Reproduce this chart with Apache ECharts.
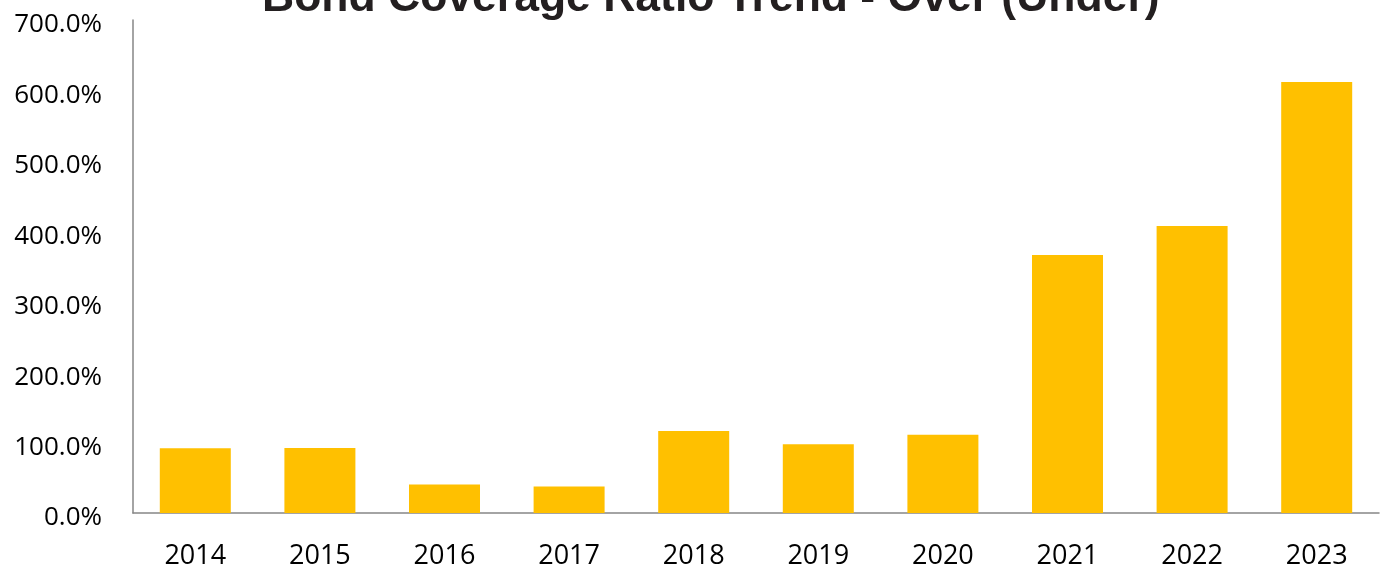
<!DOCTYPE html>
<html>
<head>
<meta charset="utf-8">
<style>
  html, body { margin: 0; padding: 0; background: #ffffff; }
  #chart { width: 1380px; height: 568px; }
</style>
<script src="https://cdn.jsdelivr.net/npm/echarts@6/dist/echarts.min.js"></script>
</head>
<body>
<div id="chart"></div>
<script>
// Bond coverage ratio by fiscal year, in percent
const years = ['2014', '2015', '2016', '2017', '2018', '2019', '2020', '2021', '2022', '2023'];
const coverageRatio = [92.0, 92.2, 40.5, 37.5, 116.5, 97.5, 111.0, 366.5, 407.5, 612.0];
const yTicks = { min: 0, max: 700, step: 100 };
const chartTitle = 'Bond Coverage Ratio Trend - Over (Under)';

const labelFont = '"Open Sans", "Liberation Sans", sans-serif';

const chart = echarts.init(document.getElementById('chart'), null, { renderer: 'canvas' });
chart.setOption({
  backgroundColor: '#ffffff',
  animation: false,
  title: {
    text: chartTitle,
    left: 257,
    top: -29,
    textStyle: {
      fontFamily: '"Liberation Sans", Arial, sans-serif',
      fontWeight: 'bold',
      fontSize: 44.5,
      color: '#231f20'
    }
  },
  grid: { left: 133, right: 1, top: 20, bottom: 55, outerBoundsMode: 'none', containLabel: false },
  xAxis: {
    type: 'category',
    data: years,
    axisLine: { show: true, lineStyle: { color: '#868686', width: 1.5 } },
    axisTick: { show: false },
    axisLabel: {
      margin: 30,
      fontFamily: labelFont,
      fontSize: 27,
      fontWeight: 500,
      color: '#000000'
    }
  },
  yAxis: {
    type: 'value',
    min: yTicks.min,
    max: yTicks.max,
    interval: yTicks.step,
    axisLine: { show: true, lineStyle: { color: '#868686', width: 1.5 } },
    axisTick: { show: false },
    splitLine: { show: false },
    axisLabel: {
      margin: 31,
      formatter: v => '{t|' + v.toFixed(1) + '%}',
      rich: {
        t: {
          padding: [10, 0, 0, 0],
          fontFamily: labelFont,
          fontSize: 26,
          fontWeight: 500,
          color: '#000000'
        }
      }
    }
  },
  series: [{
    type: 'bar',
    data: coverageRatio,
    barWidth: 71,
    itemStyle: { color: '#ffc000' }
  }]
});
</script>
</body>
</html>
